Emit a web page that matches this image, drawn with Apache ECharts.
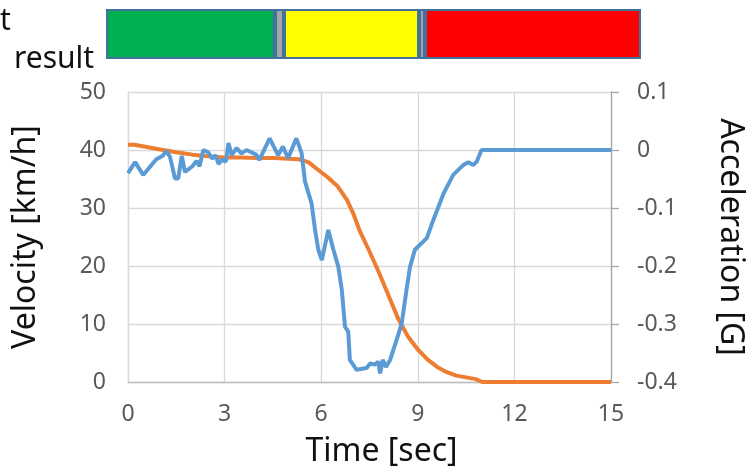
<!DOCTYPE html>
<html>
<head>
<meta charset="utf-8">
<script src="https://cdn.jsdelivr.net/npm/echarts@6/dist/echarts.min.js"></script>
<style>
html,body{margin:0;padding:0;background:#fff;}
#chart{width:747px;height:467px;}
</style>
</head>
<body>
<div id="chart"></div>
<script>
// ---- data ----
const timeTicks = [0, 3, 6, 9, 12, 15];
const velocityTicks = [0, 10, 20, 30, 40, 50];
const accelTicks = [-0.4, -0.3, -0.2, -0.1, 0, 0.1];

// Velocity [km/h] (orange, left axis): [time sec, km/h]
const velocityTime = [0, 0.2, 0.5, 1.0, 1.5, 2.0, 2.5, 3.0, 3.5, 4.0, 4.5, 5.0, 5.3, 5.6, 5.9, 6.2, 6.5, 6.8, 7.0, 7.2, 7.5, 7.8, 8.1, 8.4, 8.7, 9.0, 9.3, 9.6, 9.9, 10.2, 10.5, 10.8, 11.0, 15];
const velocityValues = [40.9, 40.9, 40.6, 40.1, 39.6, 39.2, 38.9, 38.7, 38.7, 38.6, 38.6, 38.5, 38.4, 37.9, 36.6, 35.3, 33.8, 31.4, 29.0, 26.0, 22.5, 18.8, 14.8, 10.8, 7.8, 5.6, 3.9, 2.6, 1.7, 1.1, 0.8, 0.5, 0, 0];

// Acceleration [G] (blue, right axis): [time sec, G]
const accelTime = [0.00, 0.22, 0.47, 0.88, 1.08, 1.18, 1.30, 1.46, 1.56, 1.67, 1.77, 2.00, 2.13, 2.22, 2.34, 2.49, 2.62, 2.72, 2.81, 2.91, 3.04, 3.12, 3.22, 3.37, 3.53, 3.68, 3.98, 4.08, 4.40, 4.66, 4.81, 4.97, 5.23, 5.39, 5.50, 5.70, 5.81, 5.91, 6.02, 6.12, 6.22, 6.38, 6.53, 6.64, 6.74, 6.84, 6.89, 7.10, 7.41, 7.52, 7.67, 7.77, 7.83, 7.91, 8.01, 8.14, 8.34, 8.50, 8.65, 8.76, 8.91, 9.28, 9.48, 9.80, 10.10, 10.41, 10.57, 10.72, 10.83, 10.98, 15.00];
const accelValues = [-0.040, -0.021, -0.043, -0.016, -0.010, -0.002, -0.011, -0.049, -0.049, -0.010, -0.038, -0.028, -0.019, -0.028, 0.000, -0.004, -0.015, -0.009, -0.024, -0.017, -0.020, 0.012, -0.009, 0.003, -0.006, 0.000, -0.008, -0.017, 0.020, -0.009, 0.006, -0.014, 0.020, -0.005, -0.055, -0.092, -0.138, -0.172, -0.190, -0.164, -0.138, -0.172, -0.201, -0.241, -0.305, -0.313, -0.362, -0.379, -0.376, -0.368, -0.370, -0.365, -0.385, -0.362, -0.374, -0.362, -0.328, -0.299, -0.241, -0.201, -0.172, -0.152, -0.121, -0.075, -0.043, -0.026, -0.021, -0.026, -0.020, 0.000, 0.000];

// Result band at top (relative lengths)
const bandNames = ['green', 'gray1', 'yellow', 'gray2', 'red'];
const bandLengths = [169, 9, 135, 6, 216];

// ---- styles ----
const bandColors = ['#00B050', '#A5A5A5', '#FFFF00', '#A5A5A5', '#FF0000'];
const FONT = 'Noto Sans';
const tickColor = '#595959';
const gridColor = '#d9d9d9';

const velocityData = velocityTime.map((t, i) => [t, velocityValues[i]]);
const accelData = accelTime.map((t, i) => [t, accelValues[i]]);
const bandTotal = bandLengths.reduce((a, b) => a + b, 0);

const chart = echarts.init(document.getElementById('chart'), null, {renderer: 'canvas'});

const bandSeries = bandNames.map((n, i) => ({
  name: n,
  type: 'bar',
  stack: 'band',
  xAxisIndex: 1,
  yAxisIndex: 2,
  barWidth: '100%',
  data: [bandLengths[i]],
  itemStyle: {color: bandColors[i], borderColor: '#41719C', borderWidth: 2},
  silent: true
}));

chart.setOption({
  animation: false,
  textStyle: {fontFamily: FONT},
  grid: [
    {left: 128, right: 136, top: 92, bottom: 85, containLabel: false, outerBoundsMode: 'none'},
    {left: 106, top: 9, width: 535, height: 50, containLabel: false, outerBoundsMode: 'none'}
  ],
  xAxis: [
    {
      type: 'value', gridIndex: 0, min: timeTicks[0], max: timeTicks[timeTicks.length - 1], interval: 3,
      axisLine: {show: true, lineStyle: {color: '#bfbfbf', width: 1.3}},
      axisTick: {show: false},
      axisLabel: {fontSize: 23, color: tickColor, margin: 21, fontFamily: FONT},
      splitLine: {show: true, lineStyle: {color: gridColor, width: 1.3}},
      name: 'Time [sec]', nameLocation: 'middle', nameGap: 54,
      nameTextStyle: {fontSize: 32, color: '#111', fontFamily: FONT, padding: [0, 0, 0, 24]}
    },
    {type: 'value', gridIndex: 1, min: 0, max: bandTotal, show: false}
  ],
  yAxis: [
    {
      type: 'value', gridIndex: 0, position: 'left', min: velocityTicks[0], max: velocityTicks[velocityTicks.length - 1], interval: 10,
      axisLine: {show: true, lineStyle: {color: gridColor, width: 1.3}},
      axisTick: {show: false},
      axisLabel: {fontSize: 23, color: tickColor, margin: 22, fontFamily: FONT},
      splitLine: {show: true, lineStyle: {color: gridColor, width: 1.3}},
      name: 'Velocity [km/h]', nameLocation: 'middle', nameGap: 86,
      nameTextStyle: {fontSize: 32, color: '#111', fontFamily: FONT}
    },
    {
      type: 'value', gridIndex: 0, position: 'right', min: accelTicks[0], max: accelTicks[accelTicks.length - 1], interval: 0.1,
      axisLine: {show: true, lineStyle: {color: '#a6a6a6', width: 1.3}},
      axisTick: {show: true, length: 8, inside: false, lineStyle: {color: '#a6a6a6', width: 1.3}},
      axisLabel: {fontSize: 23, color: tickColor, margin: 26, fontFamily: FONT,
        formatter: v => (Math.abs(v) < 1e-9 ? '0' : (Math.round(v * 10) / 10).toFixed(1))},
      splitLine: {show: false},
      name: 'Acceleration [G]', nameLocation: 'middle', nameGap: 103, nameRotate: -90,
      nameTextStyle: {fontSize: 32, color: '#111', fontFamily: FONT}
    },
    {type: 'category', gridIndex: 1, data: ['result'], show: false}
  ],
  graphic: [
    {type: 'text', left: 0, top: 6, style: {text: 't', fontSize: 30, fontFamily: FONT, fill: '#111'}},
    {type: 'text', left: 14, top: 44, style: {text: 'result', fontSize: 30, fontFamily: FONT, fill: '#111'}}
  ],
  series: [
    {
      name: 'Velocity', type: 'line', xAxisIndex: 0, yAxisIndex: 0, data: velocityData,
      showSymbol: false, symbol: 'none', lineStyle: {color: '#ED7D31', width: 4}, z: 2
    },
    {
      name: 'Acceleration', type: 'line', xAxisIndex: 0, yAxisIndex: 1, data: accelData,
      showSymbol: false, symbol: 'none', lineStyle: {color: '#5B9BD5', width: 4}, z: 3
    }
  ].concat(bandSeries)
});
</script>
</body>
</html>
